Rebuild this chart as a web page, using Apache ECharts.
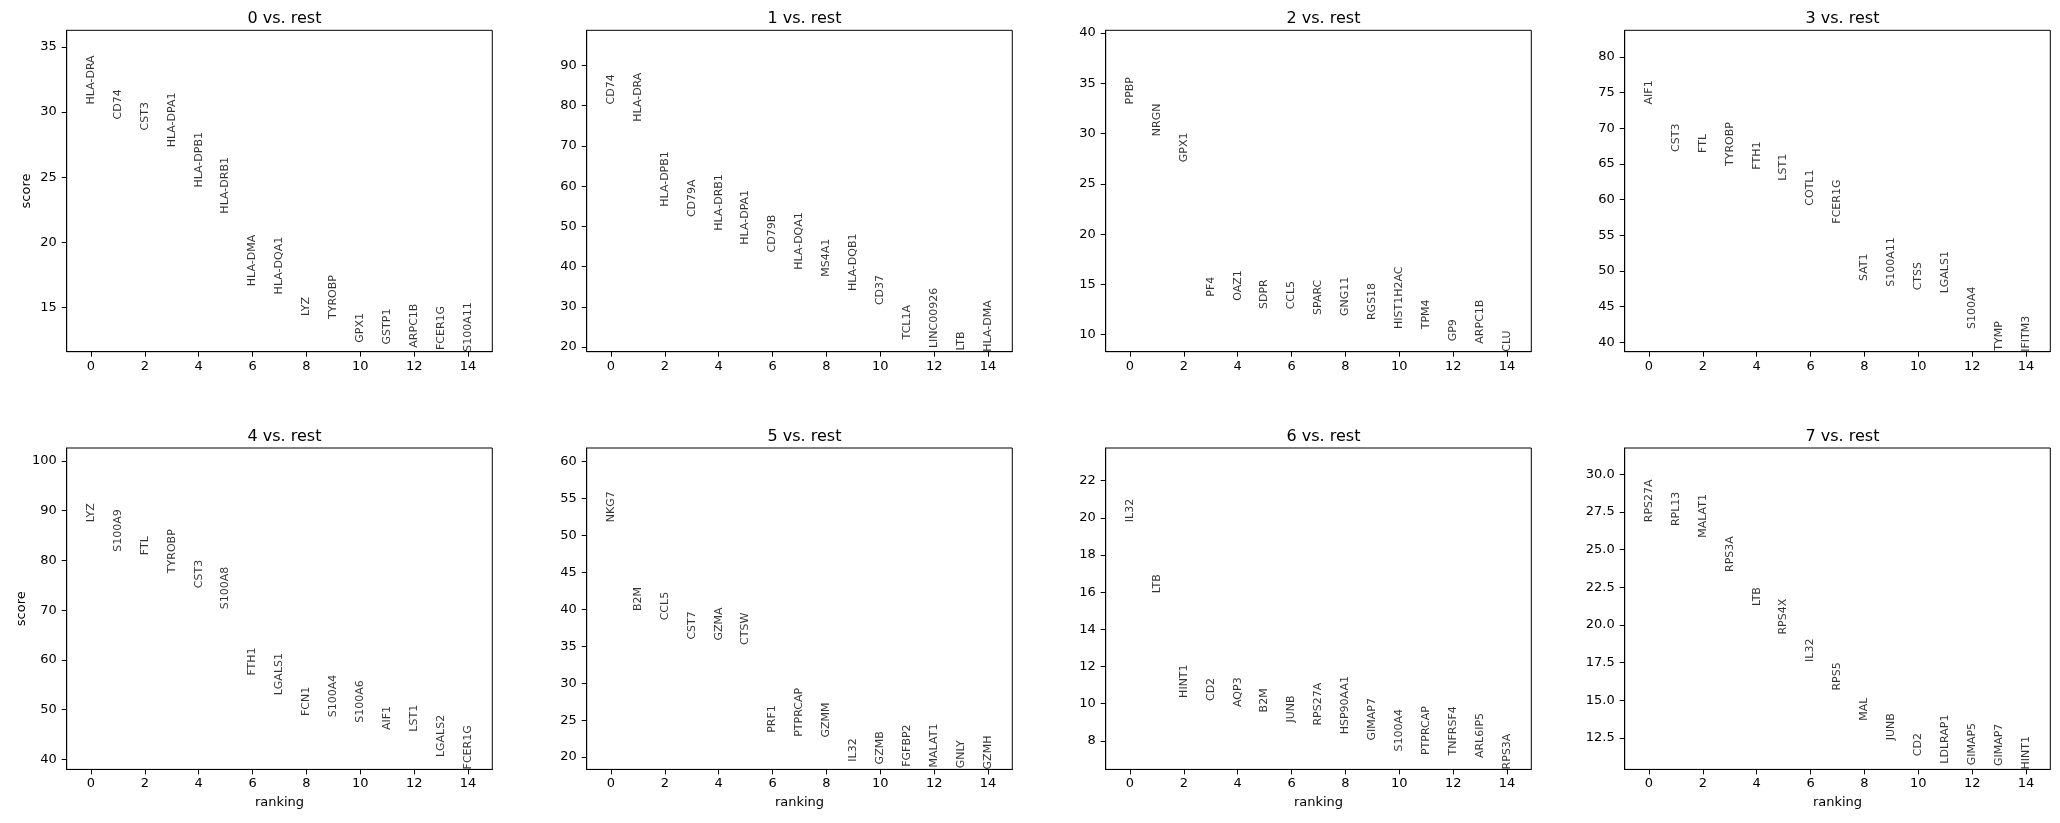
<!DOCTYPE html>
<html>
<head>
<meta charset="utf-8">
<script src="https://cdn.jsdelivr.net/npm/echarts@6/dist/echarts.min.js"></script>
<style>
  html, body { margin: 0; padding: 0; background: #fff; }
  #chart { width: 2060px; height: 823px; }
</style>
</head>
<body>
<div id="chart"></div>
<script>
// titles of the 8 panels
const TITLES = ['0 vs. rest', '1 vs. rest', '2 vs. rest', '3 vs. rest', '4 vs. rest', '5 vs. rest', '6 vs. rest', '7 vs. rest']

// top 15 genes per group and their scores
const GENES_0 = ['HLA-DRA', 'CD74', 'CST3', 'HLA-DPA1', 'HLA-DPB1', 'HLA-DRB1', 'HLA-DMA', 'HLA-DQA1', 'LYZ', 'TYROBP', 'GPX1', 'GSTP1', 'ARPC1B', 'FCER1G', 'S100A11']
const SCORES_0 = [30.58, 29.43, 28.59, 27.29, 24.2, 22.2, 16.63, 16.0, 14.34, 14.11, 12.29, 12.16, 11.91, 11.73, 11.6]

const GENES_1 = ['CD74', 'HLA-DRA', 'HLA-DPB1', 'CD79A', 'HLA-DRB1', 'HLA-DPA1', 'CD79B', 'HLA-DQA1', 'MS4A1', 'HLA-DQB1', 'CD37', 'TCL1A', 'LINC00926', 'LTB', 'HLA-DMA']
const SCORES_1 = [80.3, 76.0, 54.87, 52.3, 48.91, 45.43, 43.52, 39.21, 37.47, 33.91, 30.43, 21.9, 19.74, 19.16, 18.84]

const GENES_2 = ['PPBP', 'NRGN', 'GPX1', 'PF4', 'OAZ1', 'SDPR', 'CCL5', 'SPARC', 'GNG11', 'RGS18', 'HIST1H2AC', 'TPM4', 'GP9', 'ARPC1B', 'CLU']
const SCORES_2 = [32.9, 29.74, 27.16, 13.78, 13.38, 12.55, 12.52, 11.96, 11.86, 11.46, 10.57, 10.54, 9.34, 9.11, 8.31]

const GENES_3 = ['AIF1', 'CST3', 'FTL', 'TYROBP', 'FTH1', 'LST1', 'COTL1', 'FCER1G', 'SAT1', 'S100A11', 'CTSS', 'LGALS1', 'S100A4', 'TYMP', 'IFITM3']
const SCORES_3 = [73.35, 66.69, 66.55, 64.72, 64.21, 62.67, 59.16, 56.64, 48.6, 47.81, 47.29, 46.87, 41.87, 38.83, 38.69]

const GENES_4 = ['LYZ', 'S100A9', 'FTL', 'TYROBP', 'CST3', 'S100A8', 'FTH1', 'LGALS1', 'FCN1', 'S100A4', 'S100A6', 'AIF1', 'LST1', 'LGALS2', 'FCER1G']
const SCORES_4 = [87.7, 81.74, 81.07, 77.45, 74.43, 70.2, 56.85, 52.89, 48.72, 48.46, 47.38, 45.91, 45.57, 40.47, 37.99]

const GENES_5 = ['NKG7', 'B2M', 'CCL5', 'CST7', 'GZMA', 'CTSW', 'PRF1', 'PTPRCAP', 'GZMM', 'IL32', 'GZMB', 'FGFBP2', 'MALAT1', 'GNLY', 'GZMH']
const SCORES_5 = [51.8, 39.77, 38.51, 35.9, 35.77, 35.18, 23.28, 22.74, 22.65, 19.37, 19.01, 18.69, 18.6, 18.47, 18.33]

const GENES_6 = ['IL32', 'LTB', 'HINT1', 'CD2', 'AQP3', 'B2M', 'JUNB', 'RPS27A', 'HSP90AA1', 'GIMAP7', 'S100A4', 'PTPRCAP', 'TNFRSF4', 'ARL6IP5', 'RPS3A']
const SCORES_6 = [19.77, 15.95, 10.31, 10.14, 9.82, 9.53, 8.98, 8.82, 8.35, 8.02, 7.43, 7.23, 7.21, 7.07, 6.46]

const GENES_7 = ['RPS27A', 'RPL13', 'MALAT1', 'RPS3A', 'LTB', 'RPS4X', 'IL32', 'RPS5', 'MAL', 'JUNB', 'CD2', 'LDLRAP1', 'GIMAP5', 'GIMAP7', 'HINT1']
const SCORES_7 = [26.83, 26.57, 25.79, 23.52, 21.26, 19.36, 17.54, 15.64, 13.63, 12.34, 11.28, 10.78, 10.67, 10.62, 10.4]

// tick labels
const X_TICKS = [0, 2, 4, 6, 8, 10, 12, 14]
const Y_TICKS_0 = [15, 20, 25, 30, 35]
const Y_TICKS_1 = [20, 30, 40, 50, 60, 70, 80, 90]
const Y_TICKS_2 = [10, 15, 20, 25, 30, 35, 40]
const Y_TICKS_3 = [40, 45, 50, 55, 60, 65, 70, 75, 80]
const Y_TICKS_4 = [40, 50, 60, 70, 80, 90, 100]
const Y_TICKS_5 = [20, 25, 30, 35, 40, 45, 50, 55, 60]
const Y_TICKS_6 = [8, 10, 12, 14, 16, 18, 20, 22]
const Y_TICKS_7 = [12.5, 15.0, 17.5, 20.0, 22.5, 25.0, 27.5, 30.0]

const GENES = [GENES_0, GENES_1, GENES_2, GENES_3, GENES_4, GENES_5, GENES_6, GENES_7]
const SCORES = [SCORES_0, SCORES_1, SCORES_2, SCORES_3, SCORES_4, SCORES_5, SCORES_6, SCORES_7]
const Y_TICKS = [Y_TICKS_0, Y_TICKS_1, Y_TICKS_2, Y_TICKS_3, Y_TICKS_4, Y_TICKS_5, Y_TICKS_6, Y_TICKS_7]

// layout
const FONT = 'DejaVu Sans'
const LEFTS = [66.7, 586.7, 1105.7, 1624.7]
const TOPS = [30.3, 448]
const W = 425.6
const H = 321.4

const chart = echarts.init(document.getElementById('chart'))

const grids = [], xAxes = [], yAxes = [], series = [], titles = []

for (let i = 0; i < 8; i++) {
  const col = i % 4
  const row = Math.floor(i / 4)
  const scores = SCORES[i]
  // same y range rule as scanpy: [min, max + 0.3 * (max - min)]
  const lo = Math.min(...scores)
  const hi = Math.max(...scores)
  const yMax = hi + 0.3 * (hi - lo)

  grids.push({
    left: LEFTS[col], top: TOPS[row], width: W, height: H,
    show: true, borderColor: '#000', borderWidth: 1, containLabel: false
  })

  titles.push({
    text: TITLES[i],
    left: LEFTS[col] + W / 2,
    textAlign: 'center',
    top: TOPS[row] - 24,
    textStyle: { fontFamily: FONT, fontSize: 16, fontWeight: 'normal', color: '#000' }
  })

  xAxes.push({
    type: 'value', gridIndex: i, min: -0.9, max: 14.9,
    name: row === 1 ? 'ranking' : '',
    nameLocation: 'middle', nameGap: 27,
    nameTextStyle: { fontFamily: FONT, fontSize: 13, color: '#000' },
    splitLine: { show: false },
    axisLine: { show: true, onZero: false, lineStyle: { color: '#000', width: 1 } },
    axisTick: { show: true, length: 5, customValues: X_TICKS, lineStyle: { color: '#000' } },
    axisLabel: { customValues: X_TICKS, margin: 8, fontFamily: FONT, fontSize: 13, color: '#000' }
  })

  yAxes.push({
    type: 'value', gridIndex: i, min: lo, max: yMax,
    name: col === 0 ? 'score' : '',
    nameLocation: 'middle', nameGap: 34,
    nameTextStyle: { fontFamily: FONT, fontSize: 13, color: '#000' },
    splitLine: { show: false },
    axisLine: { show: true, onZero: false, lineStyle: { color: '#000', width: 1 } },
    axisTick: { show: true, length: 5, customValues: Y_TICKS[i], lineStyle: { color: '#000' } },
    axisLabel: {
      customValues: Y_TICKS[i], margin: 10, fontFamily: FONT, fontSize: 13, color: '#000',
      formatter: v => (i === 7 ? v.toFixed(1) : String(v))
    }
  })

  series.push({
    type: 'scatter', xAxisIndex: i, yAxisIndex: i,
    symbolSize: 1,
    itemStyle: { color: 'rgba(0,0,0,0)' },
    data: scores.map((s, k) => ({ name: GENES[i][k], value: [k, s] })),
    label: {
      show: true, position: 'inside', rotate: 90,
      align: 'left', verticalAlign: 'middle',
      formatter: p => p.name,
      fontFamily: FONT, fontSize: 11, color: '#000'
    },
    emphasis: { disabled: true },
    silent: true
  })
}

chart.setOption({
  animation: false,
  backgroundColor: '#fff',
  title: titles,
  grid: grids,
  xAxis: xAxes,
  yAxis: yAxes,
  series: series
})
</script>
</body>
</html>
